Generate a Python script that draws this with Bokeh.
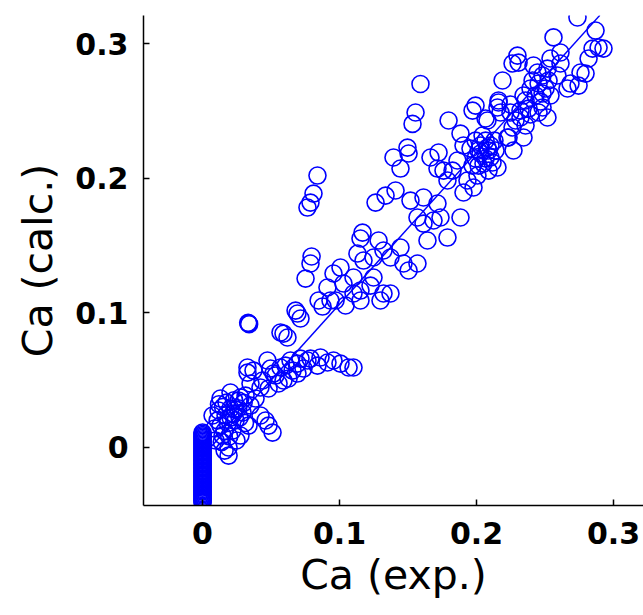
from bokeh.plotting import figure
from bokeh.models import FixedTicker, Range1d
from bokeh.embed import file_html
from bokeh.resources import INLINE

# ---- data ----
col_y = [0.011, 0.010, 0.009, 0.008, 0.007, 0.006, 0.005, 0.004, 0.003, 0.002, 0.001,
         0.000, -0.001, -0.002, -0.003, -0.004, -0.005, -0.006, -0.007, -0.008, -0.009,
         -0.010, -0.011, -0.012, -0.013, -0.014, -0.015, -0.016, -0.017, -0.018, -0.019,
         -0.020, -0.021, -0.022, -0.023, -0.024, -0.025, -0.026, -0.027, -0.028, -0.029,
         -0.030, -0.031, -0.032, -0.033, -0.034, -0.035, -0.036, -0.037, -0.038, -0.039,
         -0.040, -0.041]
col_x = [0.0] * len(col_y)

low_x = [0.0095, 0.0131, 0.0168, 0.0204, 0.0263, 0.0314, 0.0350, 0.0146, 0.0190, 0.0190,
         0.0241, 0.0292, 0.0387, 0.0073, 0.0117, 0.0423, 0.0482, 0.0511, 0.0460, 0.0219,
         0.0336, 0.0277, 0.0088, 0.0175, 0.0277, 0.0350, 0.0423, 0.0204, 0.0131, 0.0248,
         0.0161, 0.0110, 0.0150, 0.0185, 0.0225, 0.0260, 0.0300, 0.0205, 0.0240, 0.0160,
         0.0120, 0.0270, 0.0310, 0.0195, 0.0230, 0.0140]
low_y = [0.0050, 0.0161, 0.0236, 0.0288, 0.0347, 0.0384, 0.0310, 0.0087, -0.0002, -0.0062,
         0.0199, 0.0258, 0.0362, 0.0236, 0.0273, 0.0236, 0.0161, 0.0109, 0.0199, 0.0124,
         0.0161, 0.0087, 0.0139, 0.0332, 0.0370, 0.0474, 0.0444, 0.0407, 0.0362, 0.0050,
         -0.0025, 0.0200, 0.0300, 0.0180, 0.0250, 0.0290, 0.0330, 0.0220, 0.0280, 0.0120,
         0.0320, 0.0220, 0.0180, 0.0080, 0.0350, 0.0040]

arm_x = [0.0328, 0.0328, 0.0372, 0.0438, 0.0518, 0.0474, 0.0569, 0.0591, 0.0693, 0.0766,
         0.0861, 0.0912, 0.0956, 0.1007, 0.1066, 0.1102, 0.0693, 0.0628, 0.0555, 0.0482,
         0.0533, 0.0606, 0.0642, 0.0715, 0.0788, 0.0496, 0.0657, 0.0737, 0.0839]
arm_y = [0.0555, 0.0593, 0.0570, 0.0496, 0.0548, 0.0645, 0.0593, 0.0496, 0.0622, 0.0645,
         0.0667, 0.0630, 0.0645, 0.0622, 0.0593, 0.0593, 0.0548, 0.0511, 0.0474, 0.0437,
         0.0533, 0.0607, 0.0645, 0.0659, 0.0659, 0.0585, 0.0570, 0.0585, 0.0607]

mid_x = [0.0336, 0.0340, 0.0333,
         0.0693, 0.0715, 0.0679, 0.0591, 0.0620, 0.0569, 0.0796, 0.0788, 0.0752,
         0.0839, 0.0810, 0.0766, 0.0788,
         0.1394, 0.1445, 0.1504, 0.1664, 0.1759, 0.1263, 0.1336, 0.1409, 0.1518, 0.1613,
         0.1737, 0.1686, 0.1642, 0.1788, 0.1168, 0.1153, 0.1285, 0.1445, 0.1321, 0.1131,
         0.1175, 0.1248, 0.1467, 0.1569, 0.1504, 0.1372, 0.1007, 0.0956, 0.0912, 0.1029,
         0.1102, 0.1153, 0.1248, 0.1321, 0.1372, 0.1102, 0.0876, 0.0934, 0.1044, 0.1153,
         0.1226, 0.1299, 0.0971, 0.0847]
mid_y = [0.0920, 0.0915, 0.0925,
         0.0994, 0.0957, 0.1016, 0.0845, 0.0816, 0.0853, 0.1418, 0.1366, 0.1254,
         0.2020, 0.1886, 0.1782, 0.1819,
         0.2154, 0.2072, 0.2184, 0.2154, 0.2057, 0.1819, 0.1871, 0.1909, 0.1834, 0.1857,
         0.1708, 0.1686, 0.1537, 0.1559, 0.1596, 0.1552, 0.1537, 0.1485, 0.1463, 0.1440,
         0.1388, 0.1411, 0.1366, 0.1366, 0.1314, 0.1411, 0.1336, 0.1292, 0.1188, 0.1217,
         0.1262, 0.1165, 0.1262, 0.1143, 0.1143, 0.1143, 0.1046, 0.1091, 0.1054, 0.1091,
         0.1202, 0.1091, 0.1091, 0.1091]

up_x = [0.1591, 0.1555, 0.1533, 0.1796, 0.1971, 0.2080, 0.2161, 0.2175, 0.2248, 0.1496,
        0.1723, 0.1715, 0.1883, 0.1905, 0.1861, 0.1825, 0.1788, 0.1934, 0.1978, 0.1905,
        0.2007, 0.2153, 0.2080, 0.2029, 0.2102, 0.2051, 0.2226, 0.2270, 0.2263, 0.1715,
        0.1569, 0.1883, 0.1613,
        0.1993, 0.2029, 0.2066, 0.2102, 0.2015, 0.2088, 0.1993, 0.2066, 0.2117, 0.2015,
        0.2088, 0.2139, 0.2044, 0.1956, 0.1971, 0.2131]
up_y = [0.2701, 0.2489, 0.2404, 0.2429, 0.2503, 0.2429, 0.2563, 0.2489, 0.2489, 0.2228,
        0.2191, 0.2072, 0.2332, 0.2243, 0.2132, 0.2057, 0.1983, 0.1983, 0.1931, 0.1894,
        0.2020, 0.2080, 0.2228, 0.2184, 0.2154, 0.2109, 0.2303, 0.2206, 0.2377, 0.1812,
        0.1708, 0.1708, 0.1663,
        0.2280, 0.2243, 0.2280, 0.2243, 0.2206, 0.2206, 0.2147, 0.2147, 0.2117, 0.2094,
        0.2057, 0.2206, 0.2318, 0.2221, 0.2094, 0.2280]

top_x = [0.2737, 0.2562, 0.2869, 0.2891, 0.2927, 0.2847, 0.2818, 0.2759, 0.2796, 0.2686,
         0.2745, 0.2664, 0.2613, 0.2540, 0.2613, 0.2518, 0.2416, 0.2445, 0.2591, 0.2526,
         0.2453, 0.2394, 0.2482, 0.2343, 0.2299, 0.2263, 0.2307, 0.2190, 0.2161, 0.2153,
         0.2248, 0.2467, 0.2482, 0.2518, 0.2394, 0.2321, 0.2358, 0.1993, 0.2066, 0.2234,
         0.2343, 0.2358, 0.2431, 0.2504, 0.2380, 0.2453, 0.2540, 0.2409, 0.2482, 0.2321,
         0.2285]
top_y = [0.3195, 0.3047, 0.3098, 0.2972, 0.2964, 0.2964, 0.2890, 0.2786, 0.2778, 0.2704,
         0.2689, 0.2667, 0.2935, 0.2890, 0.2853, 0.2815, 0.2838, 0.2786, 0.2764, 0.2727,
         0.2704, 0.2667, 0.2630, 0.2615, 0.2912, 0.2853, 0.2860, 0.2727, 0.2578, 0.2526,
         0.2548, 0.2570, 0.2526, 0.2452, 0.2474, 0.2452, 0.2392, 0.2540, 0.2444, 0.2303,
         0.2303, 0.2578, 0.2615, 0.2667, 0.2518, 0.2489, 0.2615, 0.2727, 0.2764, 0.2503,
         0.2429]

# linear fit drawn through the cloud
fit_slope = 1.13
fit_intercept = -0.0066
fit_x_span = [0.0, 0.29]

tick_values = [0, 0.1, 0.2, 0.3]
tick_labels = ["0", "0.1", "0.2", "0.3"]

x_all = col_x + low_x + arm_x + mid_x + up_x + top_x
y_all = col_y + low_y + arm_y + mid_y + up_y + top_y
fit_y = [fit_slope * v + fit_intercept for v in fit_x_span]

BLUE = "#0000ff"

p = figure(width=643, height=615, output_backend="svg", toolbar_location=None,
           x_range=Range1d(-0.0431, 0.3219), y_range=Range1d(-0.0433, 0.3210),
           min_border_left=143, min_border_right=0, min_border_top=15, min_border_bottom=110)

p.scatter(x_all, y_all, marker="circle", size=17, fill_color=None,
          line_color=BLUE, line_width=1.6)
p.line(fit_x_span, fit_y, line_color=BLUE, line_width=1.5)

p.outline_line_color = None
p.xgrid.visible = False
p.ygrid.visible = False
p.background_fill_color = "white"
p.border_fill_color = "white"

for ax in (p.xaxis[0], p.yaxis[0]):
    ax.ticker = FixedTicker(ticks=tick_values)
    ax.major_label_overrides = {v: s for v, s in zip(tick_values, tick_labels)}
    ax.minor_tick_line_color = None
    ax.major_tick_in = 6
    ax.major_tick_out = 0
    ax.axis_line_width = 1.5
    ax.axis_line_color = "black"
    ax.major_tick_line_color = "black"
    ax.major_tick_line_width = 1.5
    ax.major_label_text_font = "DejaVu Sans"
    ax.major_label_text_font_style = "bold"
    ax.major_label_text_font_size = "30px"
    ax.major_label_text_color = "black"
    ax.axis_label_text_font = "DejaVu Sans"
    ax.axis_label_text_font_style = "normal"
    ax.axis_label_text_font_size = "41px"
    ax.axis_label_text_color = "black"

p.xaxis[0].axis_label = "Ca (exp.)"
p.yaxis[0].axis_label = "Ca (calc.)"
p.xaxis[0].major_label_standoff = 16
p.yaxis[0].major_label_standoff = 15
p.xaxis[0].axis_label_standoff = 4
p.yaxis[0].axis_label_standoff = 10

open("out.html", "w").write(file_html(p, INLINE))
